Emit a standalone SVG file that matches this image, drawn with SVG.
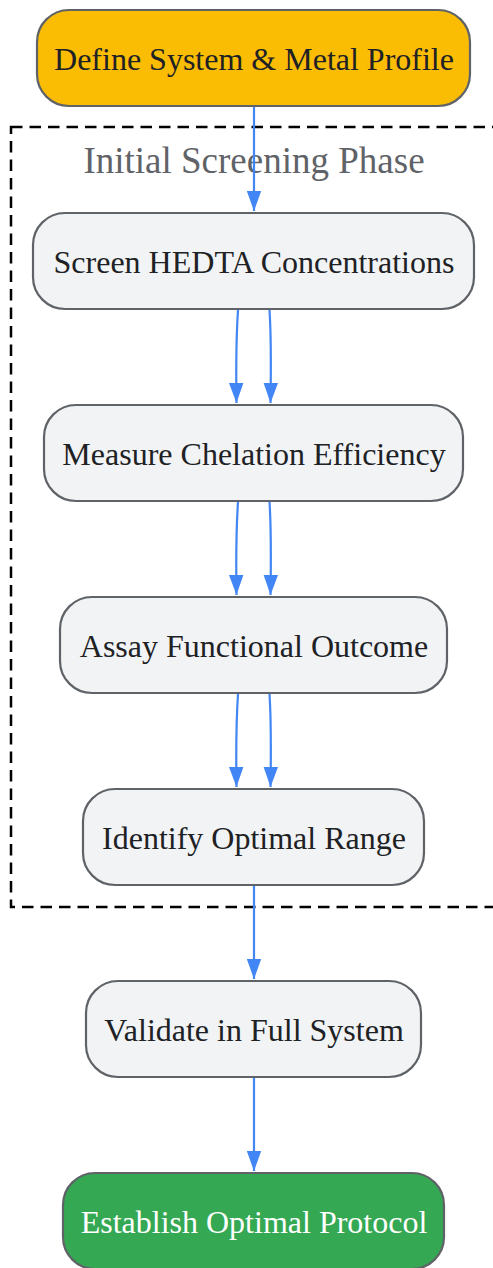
<svg xmlns="http://www.w3.org/2000/svg" width="493" height="1268" viewBox="0 0 493 1268">
<style>
.node rect{stroke:#5f6368;stroke-width:2.2}
.gray rect{fill:#f1f3f4}
.node text{font-family:"Liberation Serif","Times New Roman",serif;font-size:32px;text-anchor:middle;dominant-baseline:central;fill:#202124}
.edge{fill:none;stroke:#4285f4;stroke-width:2.2}
.cluster{fill:none;stroke:#000;stroke-width:2.5;stroke-dasharray:11.5 7}
.clabel{font-family:"Liberation Serif","Times New Roman",serif;font-size:37px;text-anchor:middle;fill:#5f6368}
</style>
<defs>
<marker id="ah" markerUnits="userSpaceOnUse" markerWidth="20" markerHeight="26" refX="25" refY="9" orient="auto" viewBox="0 0 25 18">
<path d="M0,0 L25,9 L0,18 Z" fill="#4285f4"/>
</marker>
</defs>
<rect width="493" height="1268" fill="#fff"/>
<g id="cluster-screening">
<rect class="cluster" x="11" y="127" width="500" height="780"/>
<text class="clabel" x="254" y="173">Initial Screening Phase</text>
</g>
<g id="connectors">
<path class="edge" d="M254,106 L254,211" marker-end="url(#ah)"/>
<path class="edge" d="M238,310 C236,340 236,370 236.5,403" marker-end="url(#ah)"/>
<path class="edge" d="M269.5,310 C271.5,340 271,370 270.5,403" marker-end="url(#ah)"/>
<path class="edge" d="M238,502 C236,532 236,562 236.5,595" marker-end="url(#ah)"/>
<path class="edge" d="M269.5,502 C271.5,532 271,562 270.5,595" marker-end="url(#ah)"/>
<path class="edge" d="M238,694 C236,724 236,754 236.5,787" marker-end="url(#ah)"/>
<path class="edge" d="M269.5,694 C271.5,724 271,754 270.5,787" marker-end="url(#ah)"/>
<path class="edge" d="M254,886 L254,979" marker-end="url(#ah)"/>
<path class="edge" d="M254,1078 L254,1171" marker-end="url(#ah)"/>
</g>
<g id="n1" class="node">
<rect x="37" y="10" width="433" height="96" rx="32" fill="#fbbc04"/>
<text x="254" y="59">Define System &amp; Metal Profile</text>
</g>
<g id="n2" class="node gray">
<rect x="33" y="213" width="441" height="96" rx="32"/>
<text x="254" y="262">Screen HEDTA Concentrations</text>
</g>
<g id="n3" class="node gray">
<rect x="44" y="405" width="419" height="96" rx="32"/>
<text x="254" y="454">Measure Chelation Efficiency</text>
</g>
<g id="n4" class="node gray">
<rect x="60" y="597" width="387" height="96" rx="32"/>
<text x="254" y="646">Assay Functional Outcome</text>
</g>
<g id="n5" class="node gray">
<rect x="83" y="789" width="341" height="96" rx="32"/>
<text x="254" y="838">Identify Optimal Range</text>
</g>
<g id="n6" class="node gray">
<rect x="86" y="981" width="335" height="96" rx="32"/>
<text x="254" y="1030">Validate in Full System</text>
</g>
<g id="n7" class="node">
<rect x="63" y="1173" width="381" height="96" rx="32" fill="#34a853"/>
<text x="254" y="1222" style="fill:#fff">Establish Optimal Protocol</text>
</g>
</svg>
